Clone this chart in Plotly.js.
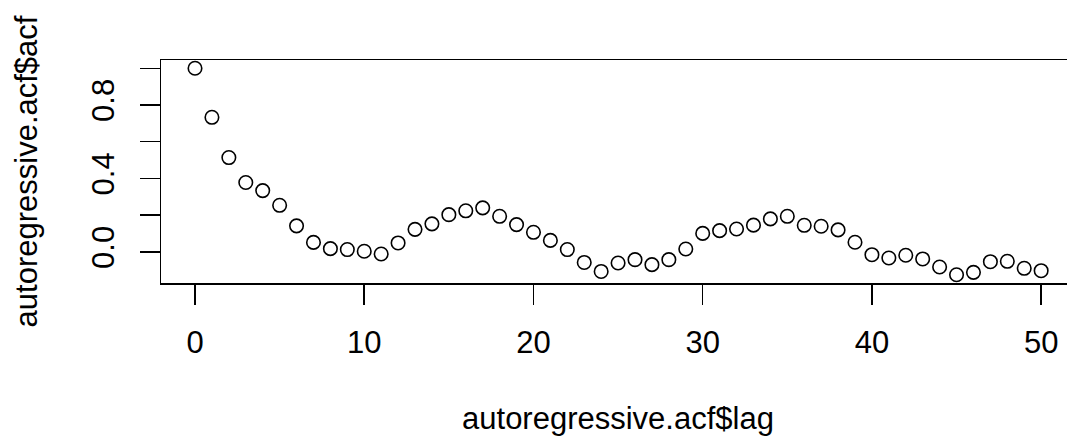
<!DOCTYPE html>
<html>
<head>
<meta charset="utf-8">
<script src="https://cdn.plot.ly/plotly-3.0.1.min.js"></script>
<style>
html, body { margin: 0; padding: 0; overflow: hidden; background: #fff; }
#chart { width: 1080px; height: 437px; }
</style>
</head>
<body>
<div id="chart"></div>
<script>
const lags = [0,1,2,3,4,5,6,7,8,9,10,11,12,13,14,15,16,17,18,19,20,21,22,23,24,25,26,27,28,29,30,31,32,33,34,35,36,37,38,39,40,41,42,43,44,45,46,47,48,49,50];
const acfValues = [1.0, 0.733, 0.514, 0.378, 0.334, 0.254, 0.142, 0.052, 0.018, 0.013, 0.004, -0.011, 0.049, 0.123, 0.153, 0.203, 0.224, 0.240, 0.194, 0.149, 0.107, 0.063, 0.013, -0.057, -0.106, -0.060, -0.042, -0.069, -0.042, 0.016, 0.101, 0.116, 0.125, 0.146, 0.180, 0.194, 0.145, 0.140, 0.120, 0.053, -0.015, -0.033, -0.018, -0.038, -0.082, -0.124, -0.111, -0.053, -0.051, -0.089, -0.102];
const xTickVals = [0, 10, 20, 30, 40, 50];
const xTickText = ["0", "10", "20", "30", "40", "50"];
const yTickVals = [0, 0.2, 0.4, 0.6, 0.8, 1.0];
const yTickText = ["0.0", "", "0.4", "", "0.8", ""];
const xTitle = "autoregressive.acf$lag";
const yTitle = "autoregressive.acf$acf";

const font = { family: "Liberation Sans, Arial, Helvetica, sans-serif", size: 31, color: "#000" };

const trace = {
  x: lags,
  y: acfValues,
  type: "scatter",
  mode: "markers",
  marker: { symbol: "circle", size: 13.5, color: "rgba(0,0,0,0)", line: { color: "#000", width: 1.6 } },
  hoverinfo: "x+y"
};

const layout = {
  width: 1080,
  height: 437,
  margin: { l: 161, r: 5, t: 60, b: 154 },
  paper_bgcolor: "#fff",
  plot_bgcolor: "#fff",
  showlegend: false,
  font: font,
  xaxis: {
    range: [-2.01, 52],
    tickmode: "array",
    tickvals: xTickVals,
    ticktext: xTickText,
    ticks: "outside",
    ticklen: 20,
    tickwidth: 1.5,
    tickcolor: "#000",
    showgrid: false,
    zeroline: false,
    showline: true,
    mirror: true,
    linecolor: "#000",
    linewidth: 1.5,
    tickfont: font,
    ticklabelstandoff: 11,
    automargin: false,
    title: { text: xTitle, font: font, standoff: 48 }
  },
  yaxis: {
    range: [-0.169, 1.045],
    tickmode: "array",
    tickvals: yTickVals,
    ticktext: yTickText,
    tickangle: -90,
    ticks: "outside",
    ticklen: 20,
    tickwidth: 1.5,
    tickcolor: "#000",
    showgrid: false,
    zeroline: false,
    showline: true,
    mirror: true,
    linecolor: "#000",
    linewidth: 1.5,
    tickfont: font,
    ticklabelstandoff: 13,
    automargin: false,
    title: { text: yTitle, font: font, standoff: 39 }
  }
};

Plotly.newPlot("chart", [trace], layout, { staticPlot: true, displayModeBar: false });
</script>
</body>
</html>
